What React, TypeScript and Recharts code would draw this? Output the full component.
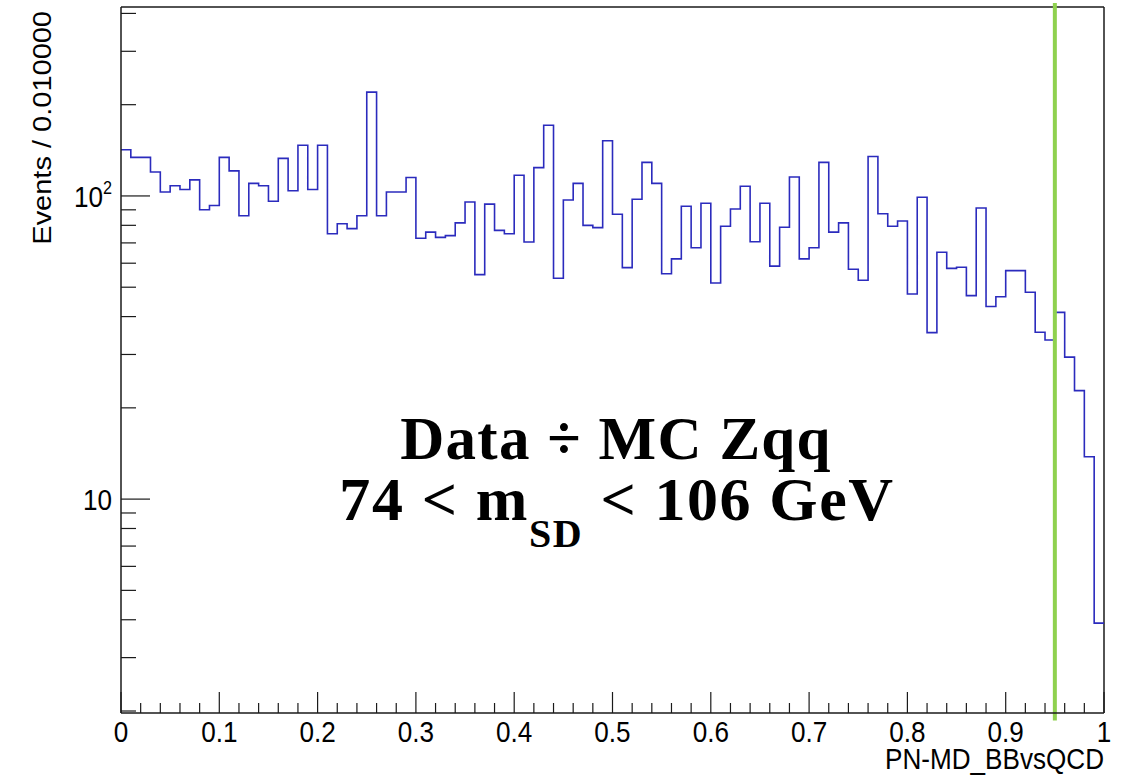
import { LineChart, Line, XAxis, YAxis, ReferenceLine, Label } from "recharts";

// histogram binning: 100 bins between 0 and 1
const BIN_WIDTH = 0.01;
const X_MIN = 0;
const X_MAX = 1;
const Y_MIN = 1.97;
const Y_MAX = 420;
const CUT_VALUE = 0.95;

// events per bin
const counts = [
  142, 134, 134, 120, 103, 108, 105, 113, 90, 93,
  134, 121, 86, 110, 108, 96, 133, 104, 147, 105,
  147, 75, 81, 78, 86, 220, 86, 103, 103, 115,
  72.5, 76, 73, 74, 81.5, 95.5, 55, 94, 77, 75,
  117, 70.5, 124, 171, 53.5, 97, 110, 80, 78.6, 152,
  87, 58, 97.5, 129, 110, 55.4, 62, 92.5, 67.5, 94.6,
  51.6, 79.4, 90.6, 107.6, 70.6, 94.6, 58.7, 78.8, 115.5, 62,
  67.5, 129, 76, 81.5, 57.3, 52.7, 135, 87.4, 79.4, 82.7,
  47.5, 99, 35.4, 65.2, 57.7, 58.2, 46.9, 91.3, 43.2, 46.5,
  56.7, 56.7, 48.1, 35.5, 33.5, 41.3, 29.4, 22.8, 13.8, 3.9,
];

const xTicks = [
  0, 0.02, 0.04, 0.06, 0.08, 0.1, 0.12, 0.14, 0.16, 0.18,
  0.2, 0.22, 0.24, 0.26, 0.28, 0.3, 0.32, 0.34, 0.36, 0.38,
  0.4, 0.42, 0.44, 0.46, 0.48, 0.5, 0.52, 0.54, 0.56, 0.58,
  0.6, 0.62, 0.64, 0.66, 0.68, 0.7, 0.72, 0.74, 0.76, 0.78,
  0.8, 0.82, 0.84, 0.86, 0.88, 0.9, 0.92, 0.94, 0.96, 0.98, 1,
];
const xMajor = [0, 0.1, 0.2, 0.3, 0.4, 0.5, 0.6, 0.7, 0.8, 0.9, 1];
const xTickLabels = ["0", "0.1", "0.2", "0.3", "0.4", "0.5", "0.6", "0.7", "0.8", "0.9", "1"];

const yTicks = [2, 3, 4, 5, 6, 7, 8, 9, 10, 20, 30, 40, 50, 60, 70, 80, 90, 100, 200, 300, 400];
const yMajor = [10, 100];
const yTickLabels = [
  { base: "10", exp: "" },
  { base: "10", exp: "2" },
];

// step points: lower edge of each bin, plus the upper edge of the last one
const data = counts.map((c, i) => ({ x: +(i * BIN_WIDTH).toFixed(2), y: c }));
data.push({ x: X_MAX, y: counts[counts.length - 1] });

const SANS = "'Liberation Sans', Arial, Helvetica, sans-serif";
const SERIF = "'Liberation Serif', 'Times New Roman', serif";
const AXIS = "#1a1a1a";
const TICK_GAP = 8;
const FONT = 29;
const SQUEEZE = 0.9; // root fonts look a bit narrow in the picture

// sans text, slightly condensed
const SText = ({ x, y, anchor, rotate = 0, children }: any) => (
  <text
    transform={`translate(${x} ${y}) scale(${SQUEEZE} 1) rotate(${rotate})`}
    textAnchor={anchor}
    fontSize={FONT}
    fontFamily={SANS}
    fill="#000"
  >
    {children}
  </text>
);

const XTick = (props: any) => {
  const { x, y, payload } = props;
  const axisY = y - TICK_GAP;
  const idx = xMajor.findIndex((m) => Math.abs(m - payload.value) < 1e-6);
  const len = idx >= 0 ? 21 : 10;
  return (
    <g>
      <line x1={x} x2={x} y1={axisY} y2={axisY - len} stroke={AXIS} strokeWidth={1.2} />
      {idx >= 0 && (
        <SText x={x} y={axisY + 29} anchor="middle">
          {xTickLabels[idx]}
        </SText>
      )}
    </g>
  );
};

const YTick = (props: any) => {
  const { x, y, payload } = props;
  const axisX = x + TICK_GAP;
  const idx = yMajor.indexOf(payload.value);
  const len = idx >= 0 ? 29 : 15;
  const lab = idx >= 0 ? yTickLabels[idx] : null;
  return (
    <g>
      <line x1={axisX} x2={axisX + len} y1={y} y2={y} stroke={AXIS} strokeWidth={1.2} />
      {lab && (
        <SText x={x - 1} y={y + 11} anchor="end">
          {lab.base}
          {lab.exp && (
            <tspan fontSize={18} dy={-13}>
              {lab.exp}
            </tspan>
          )}
        </SText>
      )}
    </g>
  );
};

const YTitle = (props: any) => {
  const vb = props.viewBox || { x: 0, y: 7 };
  return (
    <SText x={vb.x + 51} y={vb.y + 4} anchor="end" rotate={-90}>
      Events / 0.010000
    </SText>
  );
};

const XTitle = (props: any) => {
  const vb = props.viewBox || { x: 121, y: 713, width: 983 };
  return (
    <SText x={vb.x + vb.width} y={vb.y + 56} anchor="end">
      PN-MD_BBvsQCD
    </SText>
  );
};

export default function App() {
  return (
    <div style={{ position: "absolute", left: 0, top: 0, width: 1125, height: 776, background: "#fff" }}>
      <LineChart
        width={1125}
        height={776}
        data={data}
        margin={{ top: 7, right: 21, left: 0, bottom: 0 }}
      >
        <XAxis
          dataKey="x"
          type="number"
          domain={[X_MIN, X_MAX]}
          ticks={xTicks}
          interval={0}
          tickSize={0}
          tickMargin={TICK_GAP}
          tickLine={false}
          tick={(p: any) => <XTick {...p} />}
          height={63}
          axisLine={{ stroke: AXIS, strokeWidth: 1.5 }}
        >
          <Label content={(p: any) => <XTitle {...p} />} />
        </XAxis>
        <YAxis
          dataKey="y"
          type="number"
          scale="log"
          domain={[Y_MIN, Y_MAX]}
          allowDataOverflow
          ticks={yTicks}
          interval={0}
          tickSize={0}
          tickMargin={TICK_GAP}
          tickLine={false}
          tick={(p: any) => <YTick {...p} />}
          width={121}
          axisLine={{ stroke: AXIS, strokeWidth: 1.5 }}
        >
          <Label content={(p: any) => <YTitle {...p} />} />
        </YAxis>
        <ReferenceLine y={Y_MAX} stroke={AXIS} strokeWidth={1.5} ifOverflow="visible" />
        <ReferenceLine x={X_MAX} stroke={AXIS} strokeWidth={1.5} ifOverflow="visible" />
        <Line
          type="stepAfter"
          dataKey="y"
          stroke="#2b2bbd"
          strokeWidth={1.6}
          dot={false}
          activeDot={false}
          isAnimationActive={false}
        />
        <ReferenceLine
          segment={[
            { x: CUT_VALUE, y: 1.86 },
            { x: CUT_VALUE, y: 433 },
          ]}
          stroke="#8fd14f"
          strokeWidth={4}
          ifOverflow="visible"
        />
      </LineChart>
      <svg
        width={1125}
        height={776}
        style={{ position: "absolute", left: 0, top: 0, pointerEvents: "none" }}
      >
        <text
          x={616}
          y={459}
          textAnchor="middle"
          fontSize={61}
          fontWeight="bold"
          fontFamily={SERIF}
          letterSpacing={1.3}
          fill="#000"
        >
          Data ÷ MC Zqq
        </text>
        <text
          x={617}
          y={520}
          textAnchor="middle"
          fontSize={62}
          fontWeight="bold"
          fontFamily={SERIF}
          letterSpacing={1.6}
          fill="#000"
        >
          {"74 < m"}
          <tspan fontSize={40} dy={27}>
            SD
          </tspan>
          <tspan dy={-27}>{" < 106 GeV"}</tspan>
        </text>
      </svg>
    </div>
  );
}
